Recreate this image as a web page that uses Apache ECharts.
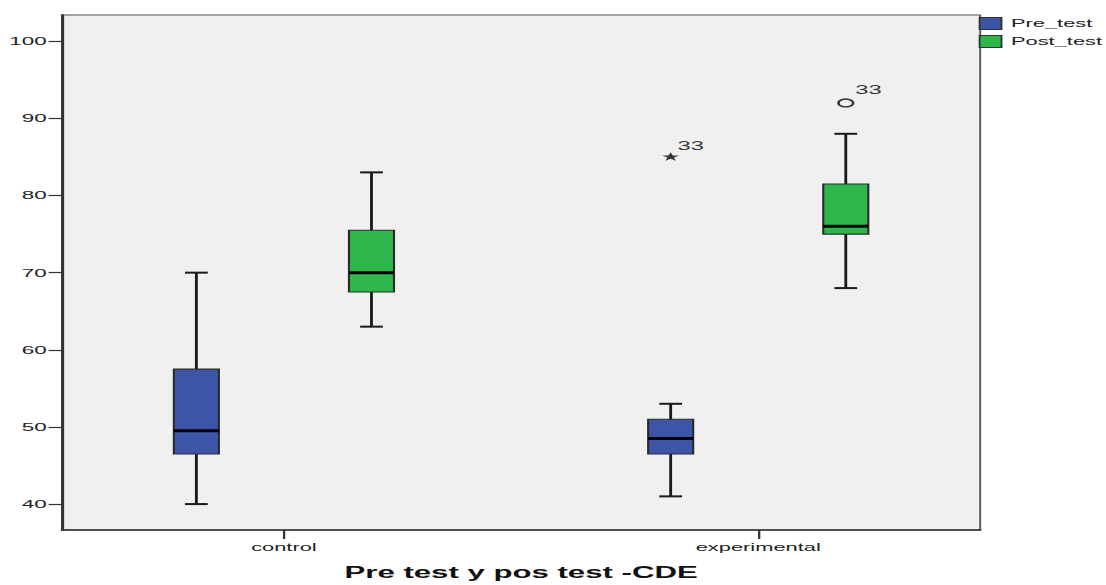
<!DOCTYPE html>
<html>
<head>
<meta charset="utf-8">
<script src="https://cdn.jsdelivr.net/npm/echarts@6/dist/echarts.min.js"></script>
<style>
html, body { margin: 0; padding: 0; background: #fff; }
#wrap { width: 1106px; height: 585px; overflow: hidden; position: relative; }
#c { width: 582px; height: 585px; transform-origin: 0 0; }
</style>
</head>
<body>
<div id="wrap"><div id="c"></div></div>
<script>
// ---- data ----
const categories = ['control', 'experimental'];
const seriesNames = ['Pre_test', 'Post_test'];
// [min, Q1, median, Q3, max] for each category
const preTest = [[40, 46.5, 49.5, 57.5, 70], [41, 46.5, 48.5, 51, 53]];
const postTest = [[63, 67.5, 70, 75.5, 83], [68, 75, 76, 81.5, 88]];
// [category index, value, case label]
const preExtremes = [[1, 85, '33']];   // drawn as star
const postOutliers = [[1, 92, '33']];  // drawn as circle
const yTicks = [40, 50, 60, 70, 80, 90, 100];
const xTitle = 'Pre test y pos test -CDE';

// ---- styling / layout ----
const STRETCH = 1106 / 582;   // original chart is horizontally stretched
document.getElementById('c').style.transform = 'scaleX(' + STRETCH + ')';
const boxColors = ['#3c55a8', '#2eb84b'];
const GROUP_OFFSET = 0.1846;
const BOX_W = 0.095;
const CAP_W = 0.048;
const FONT = '"Liberation Sans", Arial, sans-serif';
const INK = '#1a1a1a';

function boxSeries(idx, stats, offset) {
  return {
    name: seriesNames[idx],
    type: 'custom',
    itemStyle: { color: boxColors[idx], borderColor: '#222', borderWidth: 1 },
    encode: { x: 0, y: [1, 2, 3, 4, 5] },
    data: stats.map((s, i) => [i + offset].concat(s)),
    renderItem(params, api) {
      const x = api.value(0);
      const lo = api.value(1), q1 = api.value(2), med = api.value(3), q3 = api.value(4), hi = api.value(5);
      const pHi = api.coord([x, hi]);
      const pLo = api.coord([x, lo]);
      const capL = api.coord([x - CAP_W / 2, hi]);
      const capR = api.coord([x + CAP_W / 2, hi]);
      const capLl = api.coord([x - CAP_W / 2, lo]);
      const capRl = api.coord([x + CAP_W / 2, lo]);
      const tl = api.coord([x - BOX_W / 2, q3]);
      const br = api.coord([x + BOX_W / 2, q1]);
      const mL = api.coord([x - BOX_W / 2, med]);
      const mR = api.coord([x + BOX_W / 2, med]);
      const line = { stroke: INK, lineWidth: 1.5 };
      return {
        type: 'group',
        children: [
          { type: 'line', shape: { x1: pHi[0], y1: pHi[1], x2: pLo[0], y2: pLo[1] }, style: line },
          { type: 'line', shape: { x1: capL[0], y1: capL[1], x2: capR[0], y2: capR[1] }, style: { stroke: INK, lineWidth: 2 } },
          { type: 'line', shape: { x1: capLl[0], y1: capLl[1], x2: capRl[0], y2: capRl[1] }, style: { stroke: INK, lineWidth: 2 } },
          { type: 'rect', shape: { x: tl[0], y: tl[1], width: br[0] - tl[0], height: br[1] - tl[1] },
            style: { fill: boxColors[idx], stroke: '#2a2a2a', lineWidth: 1.1 } },
          { type: 'line', shape: { x1: mL[0], y1: mL[1], x2: mR[0], y2: mR[1] }, style: { stroke: '#000', lineWidth: 3 } }
        ]
      };
    }
  };
}

function outlierSeries(name, pts, offset, kind) {
  return {
    name: name,
    type: 'custom',
    encode: { x: 0, y: 1 },
    data: pts.map(p => [p[0] + offset, p[1], p[2]]),
    renderItem(params, api) {
      const c = api.coord([api.value(0), api.value(1)]);
      const label = String(api.value(2));
      let mark;
      if (kind === 'star') {
        const pts = [];
        for (let k = 0; k < 10; k++) {
          const r = k % 2 === 0 ? 4.6 : 1.8;
          const a = -Math.PI / 2 + k * Math.PI / 5;
          pts.push([c[0] + r * Math.cos(a), c[1] + r * Math.sin(a)]);
        }
        mark = { type: 'polygon', shape: { points: pts }, style: { fill: '#333' } };
      } else {
        mark = { type: 'circle', shape: { cx: c[0], cy: c[1], r: 3.9 }, style: { fill: 'none', stroke: '#333', lineWidth: 1.3 } };
      }
      const dx = kind === 'star' ? 3.6 : 5;
      const dy = kind === 'star' ? -11 : -13;
      return {
        type: 'group',
        children: [
          mark,
          { type: 'text', x: c[0] + dx, y: c[1] + dy,
            style: { text: label, fill: '#333', fontSize: 12.5, fontFamily: FONT, align: 'left', verticalAlign: 'middle' } }
        ]
      };
    }
  };
}

const chart = echarts.init(document.getElementById('c'), null, { renderer: 'svg' });
chart.setOption({
  animation: false,
  backgroundColor: '#fff',
  grid: {
    left: 32.6, right: 66.2, top: 15, bottom: 54,
    show: true, backgroundColor: '#f0f0f0', borderColor: '#555', borderWidth: 1
  },
  legend: {
    data: seriesNames.map((n, i) => ({ name: n, itemStyle: { color: boxColors[i], borderColor: '#333', borderWidth: 1 } })),
    orient: 'vertical', left: 515, top: 17, padding: 0,
    icon: 'rect', itemWidth: 11.5, itemHeight: 12, itemGap: 5,
    selectedMode: false,
    textStyle: { color: '#222', fontSize: 11.5, fontFamily: FONT }
  },
  xAxis: {
    type: 'value', min: -0.468, max: 1.468,
    splitLine: { show: false },
    axisLine: { show: true, onZero: false, lineStyle: { color: '#333', width: 1.5 } },
    axisTick: { show: true, customValues: [0, 1], length: 9, lineStyle: { color: '#333', width: 1.2 } },
    axisLabel: { customValues: [0, 1], formatter: v => categories[Math.round(v)], margin: 11,
      color: '#222', fontSize: 11.5, fontFamily: FONT },
    name: xTitle, nameLocation: 'middle', nameGap: 34,
    nameTextStyle: { color: '#111', fontSize: 16.4, fontWeight: 'bold', fontFamily: FONT }
  },
  yAxis: {
    type: 'value', min: 36.64, max: 103.4,
    splitLine: { show: false },
    axisLine: { show: true, onZero: false, lineStyle: { color: '#333', width: 1.5 } },
    axisTick: { show: true, customValues: yTicks, length: 7, lineStyle: { color: '#333', width: 1.2 } },
    axisLabel: { customValues: yTicks, margin: 8, color: '#222', fontSize: 11.8, fontFamily: FONT }
  },
  series: [
    boxSeries(0, preTest, -GROUP_OFFSET),
    boxSeries(1, postTest, GROUP_OFFSET),
    outlierSeries('extremes', preExtremes, -GROUP_OFFSET, 'star'),
    outlierSeries('outliers', postOutliers, GROUP_OFFSET, 'circle')
  ]
});
</script>
</body>
</html>
